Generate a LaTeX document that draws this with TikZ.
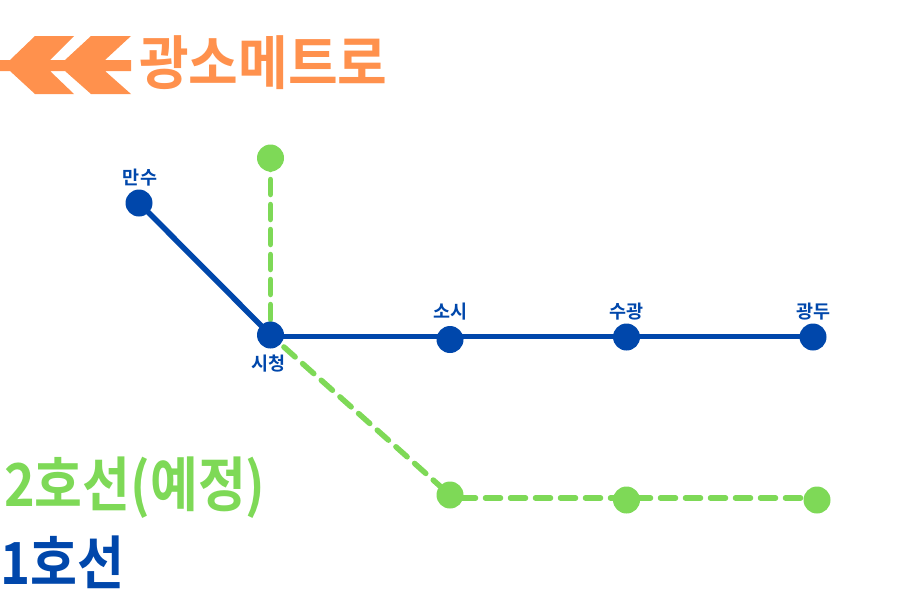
\documentclass[tikz,border=0pt]{standalone}
\usepackage{fontspec}
\usepackage{graphicx}
\usepackage{xcolor}
\usetikzlibrary{backgrounds}
\setmainfont{Noto Sans CJK KR Bold}
\definecolor{lineone}{HTML}{0047AB}
\definecolor{linetwo}{HTML}{7ED957}
\definecolor{logoorange}{HTML}{FF914D}
\tikzset{
    stationone/.style={circle,fill=lineone,inner sep=0pt,minimum size=27pt},
    stationtwo/.style={circle,fill=linetwo,inner sep=0pt,minimum size=27pt},
    lineonepath/.style={draw=lineone,line width=5.5pt},
    linetwopath/.style={draw=linetwo,line width=5.5pt,line cap=round,dash pattern=on 15pt off 10pt},
    stationname/.style={text=lineone,inner sep=0pt,font=\fontsize{18.5}{18.5}\selectfont},
    bigname/.style={inner sep=0pt,anchor=west}
}
\begin{document}
\begin{tikzpicture}[x=1pt,y=-1pt]
    \useasboundingbox (0,0) rectangle (900,600);
    \fill[logoorange] (0,60) -- (10,60) -- (35,36) -- (74,36) -- (50,60) -- (65,60) -- (91,36) -- (131,36) -- (105,60) -- (131,60)
        -- (131,71) -- (105,71) -- (131,94) -- (91,94) -- (65,71) -- (50,71) -- (74,94) -- (35,94) -- (10,71) -- (0,71) -- cycle;
    \node[bigname,text=logoorange,font=\fontsize{54}{54}\selectfont] (title) at (139,63) {\scalebox{1}[1.08]{광소메트로}};
    \node[bigname,text=linetwo,font=\fontsize{52}{52}\selectfont] (legendtwo) at (4,488) {\scalebox{1}[1.14]{2호선(예정)}};
    \node[bigname,text=lineone,font=\fontsize{51}{51}\selectfont] (legendone) at (0,562) {\scalebox{1}[1.14]{1호선}};
    \node[stationtwo] (g1) at (270.5,158) {};
    \node[stationtwo] (g2) at (450,495) {};
    \node[stationtwo] (g3) at (626.5,500) {};
    \node[stationtwo] (g4) at (817,500) {};
    \node[stationone] (mansu) at (139,203) {};
    \node[stationone] (sicheong) at (270.5,335) {};
    \node[stationone] (sosi) at (450,339.5) {};
    \node[stationone] (sugwang) at (626.5,337) {};
    \node[stationone] (gwangdu) at (813,337) {};
    \coordinate (greenleft) at (450,498);
    \coordinate (greenright) at (817,498);
    \coordinate (blueleft) at (270.5,336.7);
    \coordinate (blueright) at (813,336.7);
    \begin{scope}[on background layer]
    \draw[linetwopath,dash phase=3.5pt] (g1.center) -- (sicheong.center);
    \draw[linetwopath,dash phase=7pt] (sicheong.center) -- (g2.center);
    \draw[linetwopath,dash phase=14.5pt] (greenleft) -- (greenright);
    \draw[lineonepath] (mansu.center) -- (sicheong.center);
    \draw[lineonepath] (blueleft) -- (blueright);
    \end{scope}
    \node[stationname] (mansutext) at (140,178) {만수};
    \node[stationname] (sicheongtext) at (268.5,364) {시청};
    \node[stationname] (sositext) at (450.5,312) {소시};
    \node[stationname] (sugwangtext) at (626.5,312) {수광};
    \node[stationname] (gwangdutext) at (813.5,312) {광두};
\end{tikzpicture}
\end{document}
